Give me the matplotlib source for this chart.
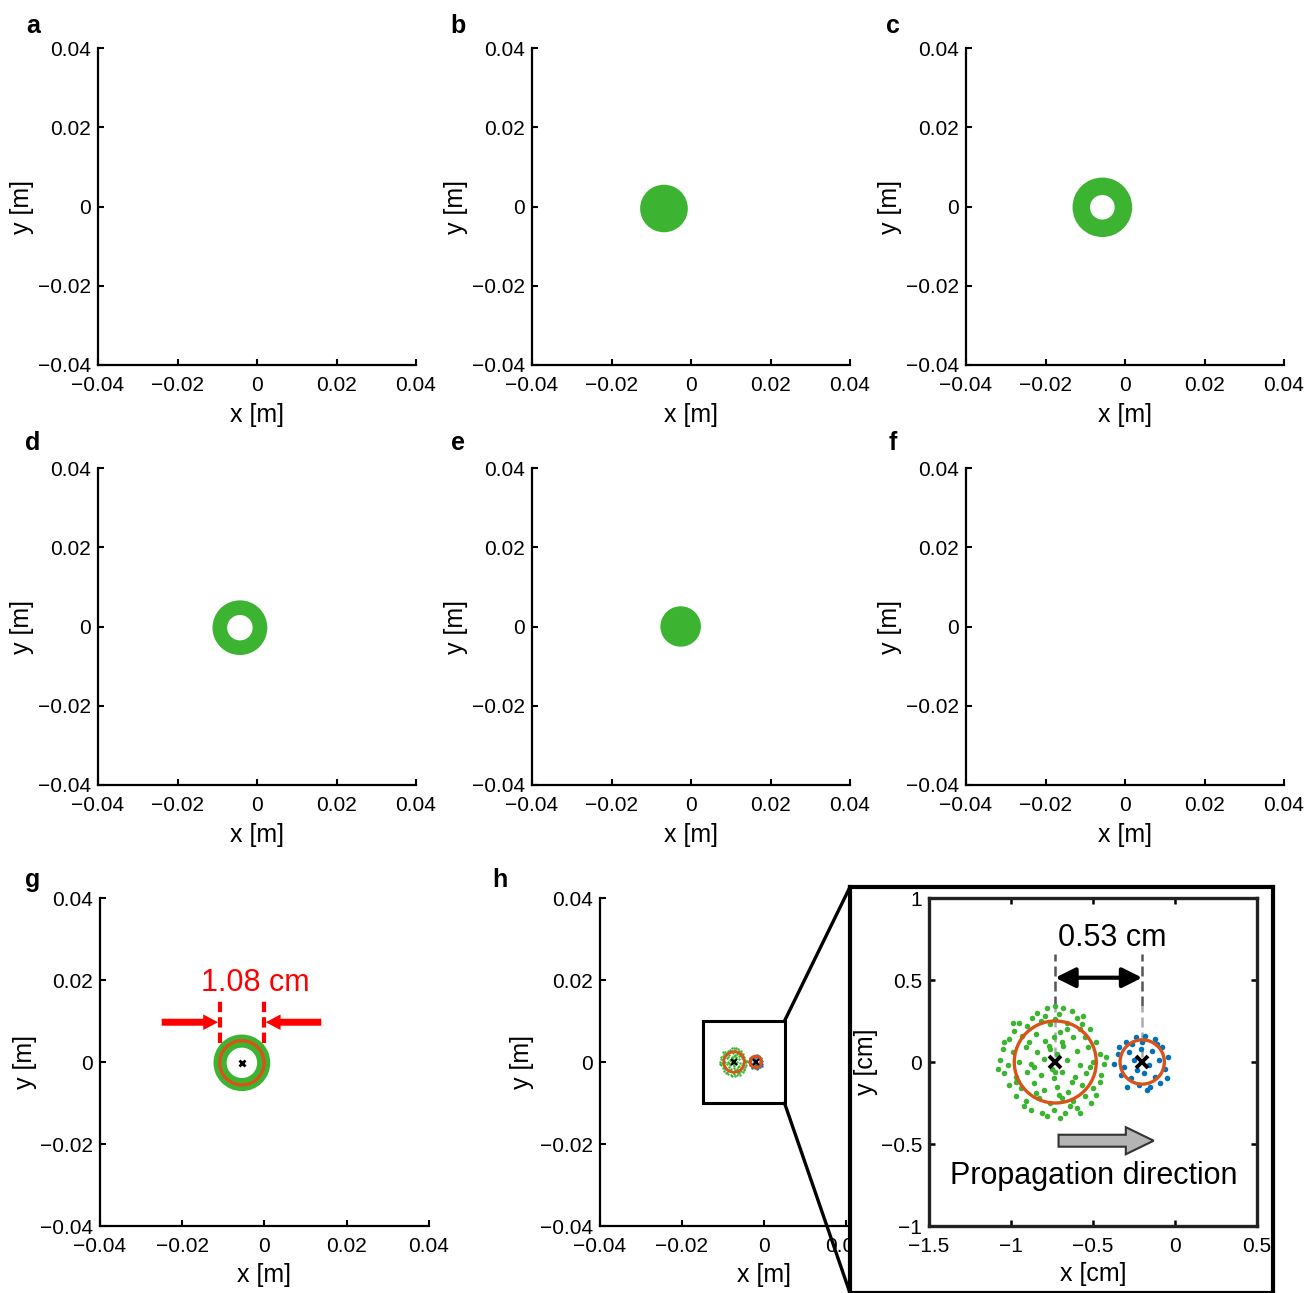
import numpy as np
import matplotlib.pyplot as plt
from matplotlib.patches import Wedge, Circle, Rectangle, FancyArrow, ConnectionPatch

plt.rcParams['font.family'] = ['Liberation Sans', 'DejaVu Sans']

# ---- data ----
ticks_m = [-0.04, -0.02, 0, 0.02, 0.04]
tick_labels_m = ['\u22120.04', '\u22120.02', '0', '0.02', '0.04']

# particle clouds for panels a-f (centre, inner/outer radius in m), nan = empty
panel_letters = ['a', 'b', 'c', 'd', 'e', 'f']
cloud_cx = [np.nan, -0.0068, -0.0057, -0.0043, -0.0026, np.nan]
cloud_cy = [np.nan, -0.0005, -0.0002, -0.0003, 0.0, np.nan]
cloud_rin = [0, 0, 0.0031, 0.0032, 0, 0]
cloud_rout = [0, 0.0060, 0.0075, 0.0069, 0.0051, 0]

# panel g ring and fitted circle
g_cx, g_cy = -0.0055, -0.0002
g_rin, g_rout = 0.0037, 0.0069
g_fit_r = 0.0054

# panel h, zoomed particles [cm]
green_x = [-0.84, -0.78, -0.73, -0.68, -0.63, -0.71, -0.87, -0.60,
           -0.95, -0.90, -0.82, -0.76, -0.66, -0.57, -0.52, -0.98,
           -1.01, -0.93, -0.85, -0.79, -0.70, -0.62, -0.55, -0.48,
           -1.05, -0.99, -0.91, -0.84, -0.76, -0.68, -0.60, -0.53, -0.46,
           -1.07, -1.02, -0.95, -0.88, -0.66, -0.58, -0.50, -0.43,
           -1.04, -0.97, -0.90, -0.82, -0.74, -0.69, -0.61, -0.54, -0.45,
           -1.01, -0.94, -0.86, -0.80, -0.72, -0.65, -0.57, -0.50, -0.46,
           -0.97, -0.91, -0.83, -0.76, -0.69, -0.62, -0.55, -0.51,
           -0.88, -0.81, -0.74, -0.67, -0.60, -0.78, -0.70, -0.64,
           -0.80, -0.72, -0.75, -0.71, -0.89, -0.74, -0.58, -1.04, -0.97,
           -0.85, -0.63, -0.52, -0.48, -0.56, -0.79, -0.92, -0.58, -0.73,
           -0.66, -0.86, -1.08, -0.42, -0.99, -0.73, -0.77, -0.69]
green_y = [0.30, 0.33, 0.34, 0.33, 0.31, 0.29, 0.27, 0.27,
           0.24, 0.22, 0.25, 0.23, 0.24, 0.23, 0.20, 0.19,
           0.14, 0.16, 0.17, 0.13, 0.18, 0.15, 0.15, 0.12,
           0.08, 0.06, 0.09, 0.06, 0.08, 0.10, 0.07, 0.09, 0.05,
           0.01, -0.02, 0.00, -0.01, 0.01, -0.02, 0.00, -0.01,
           -0.07, -0.09, -0.06, -0.08, -0.10, -0.06, -0.09, -0.07, -0.08,
           -0.14, -0.16, -0.13, -0.17, -0.15, -0.18, -0.14, -0.16, -0.12,
           -0.21, -0.24, -0.22, -0.25, -0.22, -0.24, -0.21, -0.25,
           -0.29, -0.31, -0.29, -0.31, -0.28, -0.33, -0.34, -0.27,
           0.02, 0.05, -0.04, -0.20, 0.12, 0.15, 0.20, 0.12, -0.12,
           -0.19, -0.12, -0.03, -0.20, 0.28, 0.28, -0.27, -0.31, 0.26,
           0.20, -0.03, -0.04, 0.03, 0.24, -0.06, 0.10, 0.12]
blue_x = [-0.30, -0.24, -0.18, -0.12, -0.35, -0.28, -0.21, -0.14, -0.08,
          -0.37, -0.31, -0.25, -0.16, -0.10, -0.06, -0.33, -0.27, -0.19,
          -0.12, -0.05, -0.29, -0.22, -0.15, -0.09, -0.20, -0.26, -0.04,
          -0.11, -0.34, -0.17, -0.23]
blue_y = [0.12, 0.15, 0.16, 0.14, 0.05, 0.06, 0.08, 0.07, 0.09,
          -0.01, -0.03, 0.01, -0.02, 0.01, -0.04, -0.08, -0.10, -0.07,
          -0.09, -0.10, -0.15, -0.14, -0.15, -0.13, 0.12, 0.11, 0.03,
          0.11, 0.09, -0.17, -0.05]
green_c, green_r = (-0.73, 0.0), 0.25
blue_c, blue_r = (-0.20, 0.0), 0.135
inset_ticks_x = [-1.5, -1, -0.5, 0, 0.5]
inset_labels_x = ['\u22121.5', '\u22121', '\u22120.5', '0', '0.5']
inset_ticks_y = [-1, -0.5, 0, 0.5, 1]
inset_labels_y = ['\u22121', '\u22120.5', '0', '0.5', '1']

GREEN = '#3cb432'
ORANGE = '#d95319'
BLUE = '#0072bd'
TICK_FS = 15
LAB_FS = 18

W, H = 1306, 1293
fig = plt.figure(figsize=(W / 100, H / 100), dpi=100)


def px_axes(l, t, r, b):
    return fig.add_axes([l / W, 1 - b / H, (r - l) / W, (b - t) / H])


def style(ax, xlab='x [m]', ylab='y [m]', ylx=-0.20, xly=-0.12):
    ax.set_xlim(-0.04, 0.04)
    ax.set_ylim(-0.04, 0.04)
    ax.set_xticks(ticks_m)
    ax.set_xticklabels(tick_labels_m)
    ax.set_yticks(ticks_m)
    ax.set_yticklabels(tick_labels_m)
    for s in ['top', 'right']:
        ax.spines[s].set_visible(False)
    for s in ['left', 'bottom']:
        ax.spines[s].set_linewidth(1.6)
    ax.tick_params(direction='in', length=4, width=1.5, labelsize=TICK_FS)
    ax.tick_params(axis='x', pad=8)
    ax.tick_params(axis='y', pad=5)
    ax.set_xlabel(xlab, fontsize=LAB_FS)
    ax.set_ylabel(ylab, fontsize=LAB_FS)
    ax.xaxis.set_label_coords(0.5, xly)
    ax.yaxis.set_label_coords(ylx, 0.5)


# ---- panels a-f ----
col_left = [98, 532, 966]
row_top = [48, 468]
letter_pos = [(33, 26), (458, 26), (893, 26), (33, 443), (458, 443), (893, 443)]
for i, let in enumerate(panel_letters):
    l = col_left[i % 3]
    t = row_top[i // 3]
    ax = px_axes(l, t, l + 318, t + 317)
    style(ax)
    if cloud_rout[i] > 0:
        w = cloud_rout[i] - cloud_rin[i]
        ax.add_patch(Wedge((cloud_cx[i], cloud_cy[i]), cloud_rout[i], 0, 360,
                           width=w, color=GREEN, lw=0))
    fig.text(letter_pos[i][0] / W, 1 - letter_pos[i][1] / H, let,
             fontsize=18, fontweight='bold', ha='center', va='center')

# ---- panel g ----
axg = px_axes(100, 898, 429, 1226)
style(axg, ylx=-0.19, xly=-0.113)
axg.add_patch(Wedge((g_cx, g_cy), g_rout, 0, 360, width=g_rout - g_rin,
                    color=GREEN, lw=0))
axg.add_patch(Circle((g_cx, g_cy), g_fit_r, fill=False, ec=ORANGE, lw=2.4))
axg.plot(g_cx, g_cy, 'x', color='k', ms=5, mew=2)
for xe in [g_cx - g_fit_r, g_cx + g_fit_r]:
    axg.plot([xe, xe], [0.0047, 0.0148], color='red', lw=3,
             dashes=(2.5, 1.2), zorder=4)
axg.add_patch(FancyArrow(-0.025, 0.0097, 0.025 + g_cx - g_fit_r - 0.0004, 0,
                         width=0.0017, head_width=0.0038, head_length=0.0036,
                         length_includes_head=True, color='red', lw=0))
axg.add_patch(FancyArrow(0.0138, 0.0097, g_cx + g_fit_r + 0.0004 - 0.0138, 0,
                         width=0.0017, head_width=0.0038, head_length=0.0036,
                         length_includes_head=True, color='red', lw=0))
axg.text(-0.00225, 0.0193, '1.08 cm', color='red', fontsize=22,
         ha='center', va='center')
fig.text(33 / W, 1 - 880 / H, 'g', fontsize=18, fontweight='bold',
         ha='center', va='center')

# ---- panel h ----
axh = px_axes(600, 898, 928, 1226)
style(axh, ylx=-0.20, xly=-0.113)
gx_m = np.array(green_x) / 100
gy_m = np.array(green_y) / 100
bx_m = np.array(blue_x) / 100
by_m = np.array(blue_y) / 100
axh.scatter(gx_m, gy_m, s=3, color=GREEN, lw=0)
axh.scatter(bx_m, by_m, s=3, color=BLUE, lw=0)
axh.add_patch(Circle((green_c[0] / 100, green_c[1] / 100), green_r / 100,
                     fill=False, ec=ORANGE, lw=2))
axh.add_patch(Circle((blue_c[0] / 100, blue_c[1] / 100), blue_r / 100,
                     fill=False, ec=ORANGE, lw=2.5))
axh.plot([green_c[0] / 100, blue_c[0] / 100], [0, 0], 'x', color='k',
         ms=4, mew=1.5)
axh.add_patch(Rectangle((-0.015, -0.01), 0.02, 0.02, fill=False, ec='k',
                        lw=2.2, zorder=5))
fig.text(500 / W, 1 - 880 / H, 'h', fontsize=18, fontweight='bold',
         ha='center', va='center')

# zoom box
axbox = px_axes(850, 887, 1273, 1293)
axbox.set_xticks([])
axbox.set_yticks([])
for s in axbox.spines.values():
    s.set_linewidth(3)
for xyA, xyB in [((0.005, 0.01), (0, 1)), ((0.005, -0.01), (0, 0))]:
    con = ConnectionPatch(xyA=xyA, coordsA=axh.transData, xyB=xyB,
                          coordsB=axbox.transAxes, color='k', lw=2.4)
    fig.add_artist(con)

# inset
axi = px_axes(929, 898, 1257, 1226)
axi.set_xlim(-1.5, 0.5)
axi.set_ylim(-1, 1)
axi.set_xticks(inset_ticks_x)
axi.set_xticklabels(inset_labels_x)
axi.set_yticks(inset_ticks_y)
axi.set_yticklabels(inset_labels_y)
for s in axi.spines.values():
    s.set_linewidth(2.4)
    s.set_color('#222222')
axi.tick_params(direction='in', length=4, width=1.8, labelsize=TICK_FS,
                top=True, right=True)
axi.tick_params(axis='x', pad=8)
axi.tick_params(axis='y', pad=5)
axi.set_xlabel('x [cm]', fontsize=LAB_FS)
axi.set_ylabel('y [cm]', fontsize=LAB_FS)
axi.xaxis.set_label_coords(0.5, -0.11)
axi.yaxis.set_label_coords(-0.155, 0.5)

for xc in [green_c[0], blue_c[0]]:
    axi.plot([xc, xc], [0.34, 0.66], color='#555555', lw=1.8, dashes=(4, 2))
    axi.plot([xc, xc], [0.03, 0.34], color='#aaaaaa', lw=1.8, dashes=(4, 2))
axi.scatter(green_x, green_y, s=16, color=GREEN, lw=0, zorder=3)
axi.scatter(blue_x, blue_y, s=16, color=BLUE, lw=0, zorder=3)
axi.add_patch(Circle(green_c, green_r, fill=False, ec=ORANGE, lw=2.4,
                     zorder=4))
axi.add_patch(Circle(blue_c, blue_r, fill=False, ec=ORANGE, lw=2.4,
                     zorder=4))
axi.plot([green_c[0], blue_c[0]], [green_c[1], blue_c[1]], 'x', color='k',
         ms=9, mew=2.8, zorder=5)
axi.annotate('', xy=(blue_c[0], 0.514), xytext=(green_c[0], 0.514),
             arrowprops=dict(arrowstyle='<|-|>,head_length=0.6,head_width=0.3',
                             color='k', lw=3, shrinkA=0, shrinkB=0,
                             mutation_scale=20))
axi.text(-0.385, 0.758, '0.53 cm', fontsize=22, ha='center', va='center')
axi.add_patch(FancyArrow(-0.71, -0.48, 0.58, 0, width=0.073,
                         head_width=0.165, head_length=0.17,
                         length_includes_head=True, fc='#b4b4b4',
                         ec='#333333', lw=1.5))
axi.text(-0.495, -0.695, 'Propagation direction', fontsize=22,
         ha='center', va='center')

fig.savefig('out.png', dpi=100)
